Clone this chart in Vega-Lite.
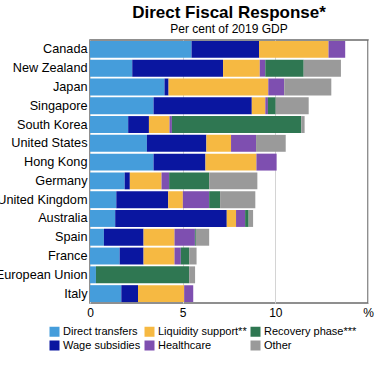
{
  "$schema": "https://vega.github.io/schema/vega-lite/v6.json",
  "autosize": {"type": "none"},
  "width": 278,
  "height": 263,
  "padding": {"left": 90, "top": 40, "right": 10, "bottom": 66},
  "background": "white",
  "config": {
    "font": "Liberation Sans",
    "view": {"stroke": "#6b6b6b", "strokeWidth": 1.5}
  },
  "title": {
    "text": "Direct Fiscal Response*",
    "subtitle": "Per cent of 2019 GDP",
    "fontSize": 17,
    "fontWeight": "bold",
    "color": "black",
    "subtitleFontSize": 12,
    "subtitleColor": "black",
    "subtitlePadding": 2,
    "offset": 4,
    "anchor": "middle"
  },
  "data": {"values": [
    {"country": "Canada", "cat": "Direct transfers", "v": 5.48},
    {"country": "Canada", "cat": "Wage subsidies", "v": 3.64},
    {"country": "Canada", "cat": "Liquidity support**", "v": 3.75},
    {"country": "Canada", "cat": "Healthcare", "v": 0.9},
    {"country": "New Zealand", "cat": "Direct transfers", "v": 2.28},
    {"country": "New Zealand", "cat": "Wage subsidies", "v": 4.9},
    {"country": "New Zealand", "cat": "Liquidity support**", "v": 1.98},
    {"country": "New Zealand", "cat": "Healthcare", "v": 0.3},
    {"country": "New Zealand", "cat": "Recovery phase***", "v": 2.07},
    {"country": "New Zealand", "cat": "Other", "v": 2.01},
    {"country": "Japan", "cat": "Direct transfers", "v": 4.02},
    {"country": "Japan", "cat": "Wage subsidies", "v": 0.22},
    {"country": "Japan", "cat": "Liquidity support**", "v": 5.38},
    {"country": "Japan", "cat": "Healthcare", "v": 0.86},
    {"country": "Japan", "cat": "Other", "v": 2.54},
    {"country": "Singapore", "cat": "Direct transfers", "v": 3.43},
    {"country": "Singapore", "cat": "Wage subsidies", "v": 5.3},
    {"country": "Singapore", "cat": "Liquidity support**", "v": 0.73},
    {"country": "Singapore", "cat": "Healthcare", "v": 0.14},
    {"country": "Singapore", "cat": "Recovery phase***", "v": 0.42},
    {"country": "Singapore", "cat": "Other", "v": 1.78},
    {"country": "South Korea", "cat": "Direct transfers", "v": 2.06},
    {"country": "South Korea", "cat": "Wage subsidies", "v": 1.12},
    {"country": "South Korea", "cat": "Liquidity support**", "v": 1.11},
    {"country": "South Korea", "cat": "Healthcare", "v": 0.13},
    {"country": "South Korea", "cat": "Recovery phase***", "v": 6.98},
    {"country": "South Korea", "cat": "Other", "v": 0.18},
    {"country": "United States", "cat": "Direct transfers", "v": 3.07},
    {"country": "United States", "cat": "Wage subsidies", "v": 3.21},
    {"country": "United States", "cat": "Liquidity support**", "v": 1.33},
    {"country": "United States", "cat": "Healthcare", "v": 1.35},
    {"country": "United States", "cat": "Other", "v": 1.6},
    {"country": "Hong Kong", "cat": "Direct transfers", "v": 3.43},
    {"country": "Hong Kong", "cat": "Wage subsidies", "v": 2.8},
    {"country": "Hong Kong", "cat": "Liquidity support**", "v": 2.75},
    {"country": "Hong Kong", "cat": "Healthcare", "v": 1.09},
    {"country": "Germany", "cat": "Direct transfers", "v": 1.87},
    {"country": "Germany", "cat": "Wage subsidies", "v": 0.28},
    {"country": "Germany", "cat": "Liquidity support**", "v": 1.71},
    {"country": "Germany", "cat": "Healthcare", "v": 0.41},
    {"country": "Germany", "cat": "Recovery phase***", "v": 2.16},
    {"country": "Germany", "cat": "Other", "v": 2.6},
    {"country": "United Kingdom", "cat": "Direct transfers", "v": 1.42},
    {"country": "United Kingdom", "cat": "Wage subsidies", "v": 2.8},
    {"country": "United Kingdom", "cat": "Liquidity support**", "v": 0.79},
    {"country": "United Kingdom", "cat": "Healthcare", "v": 1.42},
    {"country": "United Kingdom", "cat": "Recovery phase***", "v": 0.59},
    {"country": "United Kingdom", "cat": "Other", "v": 1.9},
    {"country": "Australia", "cat": "Direct transfers", "v": 1.36},
    {"country": "Australia", "cat": "Wage subsidies", "v": 6.02},
    {"country": "Australia", "cat": "Liquidity support**", "v": 0.5},
    {"country": "Australia", "cat": "Healthcare", "v": 0.49},
    {"country": "Australia", "cat": "Recovery phase***", "v": 0.19},
    {"country": "Australia", "cat": "Other", "v": 0.24},
    {"country": "Spain", "cat": "Direct transfers", "v": 0.75},
    {"country": "Spain", "cat": "Wage subsidies", "v": 2.14},
    {"country": "Spain", "cat": "Liquidity support**", "v": 1.67},
    {"country": "Spain", "cat": "Healthcare", "v": 1.1},
    {"country": "Spain", "cat": "Recovery phase***", "v": 0.05},
    {"country": "Spain", "cat": "Other", "v": 0.72},
    {"country": "France", "cat": "Direct transfers", "v": 1.6},
    {"country": "France", "cat": "Wage subsidies", "v": 1.29},
    {"country": "France", "cat": "Liquidity support**", "v": 1.67},
    {"country": "France", "cat": "Healthcare", "v": 0.34},
    {"country": "France", "cat": "Recovery phase***", "v": 0.45},
    {"country": "France", "cat": "Other", "v": 0.4},
    {"country": "European Union", "cat": "Direct transfers", "v": 0.32},
    {"country": "European Union", "cat": "Recovery phase***", "v": 5.03},
    {"country": "European Union", "cat": "Other", "v": 0.32},
    {"country": "Italy", "cat": "Direct transfers", "v": 1.69},
    {"country": "Italy", "cat": "Wage subsidies", "v": 0.9},
    {"country": "Italy", "cat": "Liquidity support**", "v": 2.49},
    {"country": "Italy", "cat": "Healthcare", "v": 0.49}
  ]},
  "transform": [
    {"calculate": "indexof(['Direct transfers','Wage subsidies','Liquidity support**','Healthcare','Recovery phase***','Other'], datum.cat)", "as": "k"}
  ],
  "mark": {"type": "bar"},
  "encoding": {
    "y": {
      "field": "country",
      "type": "nominal",
      "sort": ["Canada","New Zealand","Japan","Singapore","South Korea","United States","Hong Kong","Germany","United Kingdom","Australia","Spain","France","European Union","Italy"],
      "scale": {"paddingInner": 0.1, "paddingOuter": 0.05},
      "axis": {"title": null, "ticks": false, "domain": false, "labelFontSize": 12.7, "labelColor": "black", "labelPadding": 3, "labelLimit": 200}
    },
    "x": {
      "field": "v",
      "type": "quantitative",
      "stack": "zero",
      "scale": {"domain": [0, 15], "nice": false},
      "axis": {
        "title": null,
        "values": [0, 5, 10, 15],
        "labelExpr": "datum.value == 15 ? '%' : datum.label",
        "labelFontSize": 12,
        "labelColor": "black",
        "ticks": false,
        "domain": false,
        "labelPadding": 4,
        "gridColor": "#d4d4d4",
        "labelFlush": false
      }
    },
    "color": {
      "field": "cat",
      "type": "nominal",
      "scale": {
        "domain": ["Direct transfers","Wage subsidies","Liquidity support**","Healthcare","Recovery phase***","Other"],
        "range": ["#459ddb","#0a16a0","#f6b942","#7e4fb0","#2f7752","#9a9a9a"]
      },
      "legend": {
        "orient": "none",
        "legendX": -41,
        "legendY": 286,
        "padding": 0,
        "title": null,
        "columns": 3,
        "symbolType": "square",
        "symbolSize": 100,
        "symbolStrokeWidth": 0,
        "labelFontSize": 11,
        "labelColor": "black",
        "labelOffset": 3,
        "columnPadding": 3,
        "rowPadding": 2
      }
    },
    "order": {"field": "k", "type": "quantitative", "sort": "ascending"}
  }
}
